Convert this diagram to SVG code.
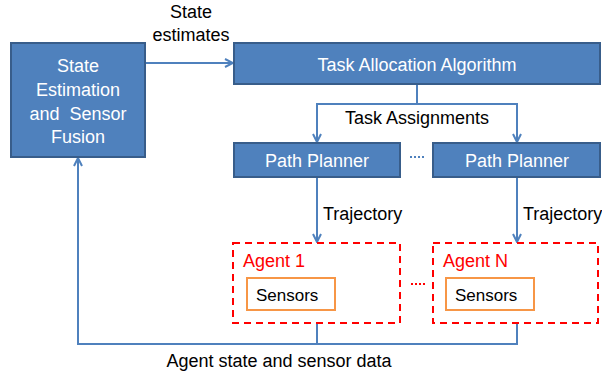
<svg xmlns="http://www.w3.org/2000/svg" width="602" height="375" viewBox="0 0 602 375">
<style>
.box{fill:#4F81BD;stroke:#385D8A;stroke-width:2}
.wt{fill:#FFFFFF;font-family:"Liberation Sans",Arial,sans-serif;font-size:18px}
.bt{fill:#000000;font-family:"Liberation Sans",Arial,sans-serif;font-size:18px}
.st{fill:#000000;font-family:"Liberation Sans",Arial,sans-serif;font-size:17px}
.rt{fill:#FF0000;font-family:"Liberation Sans",Arial,sans-serif;font-size:18px}
.agent{fill:none;stroke:#FF0000;stroke-width:2;stroke-dasharray:7,5}
.sens{fill:#FFFFFF;stroke:#F79646;stroke-width:2}
.con{fill:none;stroke:#4F81BD;stroke-width:2}
</style>
<defs>
<marker id="arr" viewBox="0 0 10 10" refX="9" refY="5" markerWidth="10" markerHeight="10" markerUnits="userSpaceOnUse" orient="auto">
<path d="M1,1 L9,5 L1,9" fill="none" stroke="#4F81BD" stroke-width="2"/>
</marker>
</defs>
<rect width="602" height="375" fill="#FFFFFF"/>
<g id="connectors">
<path class="con" d="M145,63 H233" marker-end="url(#arr)"/>
<path class="con" d="M417,84 V104 H317 V142" marker-end="url(#arr)"/>
<path class="con" d="M417,104 H517 V142" marker-end="url(#arr)"/>
<path class="con" d="M317,177 V242" marker-end="url(#arr)"/>
<path class="con" d="M517,177 V242" marker-end="url(#arr)"/>
<path class="con" d="M317,323 V344 H78 V158" marker-end="url(#arr)"/>
<path class="con" d="M517,323 V344 H317"/>
<line x1="410" y1="157" x2="425" y2="157" stroke="#4F81BD" stroke-width="2" stroke-dasharray="2,2"/>
<line x1="411" y1="284" x2="426" y2="284" stroke="#FF0000" stroke-width="2" stroke-dasharray="2,2"/>
<text class="bt" x="191" y="18" text-anchor="middle">State</text>
<text class="bt" x="191" y="41" text-anchor="middle">estimates</text>
<text class="bt" x="417" y="124" text-anchor="middle">Task Assignments</text>
<text class="bt" x="323" y="220">Trajectory</text>
<text class="bt" x="523" y="220">Trajectory</text>
<text class="bt" x="279" y="367" text-anchor="middle">Agent state and sensor data</text>
</g>
<g id="fusion">
<rect class="box" x="11" y="43" width="134" height="114"/>
<text class="wt" x="78" y="72" text-anchor="middle">State</text>
<text class="wt" x="78" y="96" text-anchor="middle">Estimation</text>
<text class="wt" x="78" y="120" text-anchor="middle" xml:space="preserve">and  Sensor</text>
<text class="wt" x="78" y="143" text-anchor="middle">Fusion</text>
</g>
<g id="task-allocation">
<rect class="box" x="234" y="43" width="366" height="41"/>
<text class="wt" x="417" y="71" text-anchor="middle">Task Allocation Algorithm</text>
</g>
<g id="path-planner-1">
<rect class="box" x="234" y="143" width="166" height="34"/>
<text class="wt" x="317" y="167" text-anchor="middle">Path Planner</text>
</g>
<g id="path-planner-n">
<rect class="box" x="433" y="143" width="167" height="34"/>
<text class="wt" x="517" y="167" text-anchor="middle">Path Planner</text>
</g>
<g id="agent-1">
<rect class="agent" x="233" y="243" width="167" height="80"/>
<text class="rt" x="243" y="267">Agent 1</text>
<rect class="sens" x="247" y="278" width="88" height="32"/>
<text class="st" x="256" y="301">Sensors</text>
</g>
<g id="agent-n">
<rect class="agent" x="433" y="243" width="165" height="80"/>
<text class="rt" x="443" y="267">Agent N</text>
<rect class="sens" x="446" y="278" width="88" height="32"/>
<text class="st" x="455" y="301">Sensors</text>
</g>
</svg>
